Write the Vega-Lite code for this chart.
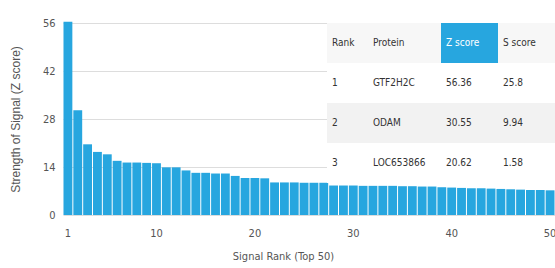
{
  "$schema": "https://vega.github.io/schema/vega-lite/v6.json",
  "width": 492,
  "height": 192,
  "autosize": {"type": "none"},
  "padding": {"left": 63, "top": 23, "right": 0, "bottom": 53},
  "background": "#ffffff",
  "config": {"view": {"stroke": null}},
  "datasets": {
    "ranks": [
      {"rank": 1, "z": 56.36}, {"rank": 2, "z": 30.55}, {"rank": 3, "z": 20.62}, {"rank": 4, "z": 18.4},
      {"rank": 5, "z": 17.7}, {"rank": 6, "z": 15.8}, {"rank": 7, "z": 15.3}, {"rank": 8, "z": 15.3},
      {"rank": 9, "z": 15.2}, {"rank": 10, "z": 15.1}, {"rank": 11, "z": 13.9}, {"rank": 12, "z": 13.9},
      {"rank": 13, "z": 13.0}, {"rank": 14, "z": 12.3}, {"rank": 15, "z": 12.3}, {"rank": 16, "z": 12.1},
      {"rank": 17, "z": 12.1}, {"rank": 18, "z": 11.4}, {"rank": 19, "z": 10.8}, {"rank": 20, "z": 10.8},
      {"rank": 21, "z": 10.7}, {"rank": 22, "z": 9.5}, {"rank": 23, "z": 9.5}, {"rank": 24, "z": 9.5},
      {"rank": 25, "z": 9.4}, {"rank": 26, "z": 9.4}, {"rank": 27, "z": 9.4}, {"rank": 28, "z": 8.6},
      {"rank": 29, "z": 8.6}, {"rank": 30, "z": 8.6}, {"rank": 31, "z": 8.5}, {"rank": 32, "z": 8.5},
      {"rank": 33, "z": 8.5}, {"rank": 34, "z": 8.5}, {"rank": 35, "z": 8.4}, {"rank": 36, "z": 8.4},
      {"rank": 37, "z": 8.3}, {"rank": 38, "z": 8.3}, {"rank": 39, "z": 8.1}, {"rank": 40, "z": 8.0},
      {"rank": 41, "z": 7.9}, {"rank": 42, "z": 7.8}, {"rank": 43, "z": 7.8}, {"rank": 44, "z": 7.7},
      {"rank": 45, "z": 7.6}, {"rank": 46, "z": 7.5}, {"rank": 47, "z": 7.4}, {"rank": 48, "z": 7.3},
      {"rank": 49, "z": 7.3}, {"rank": 50, "z": 7.2}
    ],
    "table": [
      {"row": "H", "col": "Rank", "text": "Rank"},
      {"row": "H", "col": "Protein", "text": "Protein"},
      {"row": "H", "col": "Z score", "text": "Z score"},
      {"row": "H", "col": "S score", "text": "S score"},
      {"row": "1", "col": "Rank", "text": "1"},
      {"row": "1", "col": "Protein", "text": "GTF2H2C"},
      {"row": "1", "col": "Z score", "text": "56.36"},
      {"row": "1", "col": "S score", "text": "25.8"},
      {"row": "2", "col": "Rank", "text": "2"},
      {"row": "2", "col": "Protein", "text": "ODAM"},
      {"row": "2", "col": "Z score", "text": "30.55"},
      {"row": "2", "col": "S score", "text": "9.94"},
      {"row": "3", "col": "Rank", "text": "3"},
      {"row": "3", "col": "Protein", "text": "LOC653866"},
      {"row": "3", "col": "Z score", "text": "20.62"},
      {"row": "3", "col": "S score", "text": "1.58"}
    ]
  },
  "layer": [
    {
      "data": {"name": "ranks"},
      "mark": {"type": "bar", "color": "#27a6df"},
      "encoding": {
        "x": {
          "field": "rank", "type": "ordinal", "sort": "ascending",
          "scale": {"paddingInner": 0.1, "paddingOuter": 0.05},
          "axis": {
            "values": [1, 10, 20, 30, 40, 50], "labelAngle": 0, "ticks": false, "domain": false,
            "labelPadding": 12, "labelColor": "#555", "labelFont": "DejaVu Sans Condensed, Liberation Sans, sans-serif", "labelFontSize": 11,
            "title": "Signal Rank (Top 50)", "titleFont": "DejaVu Sans Condensed, Liberation Sans, sans-serif", "titleFontSize": 11,
            "titleFontWeight": "normal", "titleColor": "#555", "titlePadding": 12, "titleX": 220
          }
        },
        "y": {
          "field": "z", "type": "quantitative",
          "scale": {"domain": [0, 56], "nice": false},
          "axis": {
            "values": [0, 14, 28, 42, 56], "grid": true, "gridColor": "#dddddd", "ticks": false, "domain": false,
            "labelPadding": 8, "labelColor": "#555", "labelFont": "DejaVu Sans Condensed, Liberation Sans, sans-serif", "labelFontSize": 11,
            "title": "Strength of Signal (Z score)", "titleFont": "Liberation Sans, sans-serif", "titleFontSize": 12,
            "titleFontWeight": "normal", "titleColor": "#555", "titlePadding": 20
          }
        }
      }
    },
    {
      "data": {"name": "table"},
      "layer": [
        {
          "mark": {"type": "rect"},
          "encoding": {
            "x": {"field": "col", "type": "nominal", "axis": null,
                  "scale": {"type": "band", "domain": ["Rank", "Protein", "Z score", "S score"], "range": [264, 492], "paddingInner": 0, "paddingOuter": 0}},
            "y": {"field": "row", "type": "nominal", "axis": null,
                  "scale": {"type": "band", "domain": ["H", "1", "2", "3"], "range": [0, 160], "paddingInner": 0, "paddingOuter": 0}},
            "fill": {"field": "row", "type": "nominal", "legend": null,
                     "scale": {"domain": ["H", "1", "2", "3"], "range": ["#f7f7f7", "#ffffff", "#f2f2f2", "#ffffff"]}}
          }
        },
        {
          "transform": [{"filter": "datum.row === 'H' && datum.col === 'Z score'"}],
          "mark": {"type": "rect", "color": "#27a6df"},
          "encoding": {
            "x": {"field": "col", "type": "nominal", "axis": null},
            "y": {"field": "row", "type": "nominal", "axis": null}
          }
        },
        {
          "transform": [{"filter": "datum.col !== 'Protein'"}],
          "mark": {"type": "text", "align": "left", "baseline": "middle", "dx": 5, "font": "DejaVu Sans Condensed, Liberation Sans, sans-serif", "fontSize": 10},
          "encoding": {
            "x": {"field": "col", "type": "nominal", "axis": null, "bandPosition": 0},
            "y": {"field": "row", "type": "nominal", "axis": null},
            "text": {"field": "text"},
            "color": {"condition": {"test": "datum.row === 'H' && datum.col === 'Z score'", "value": "#ffffff"}, "value": "#333333"}
          }
        },
        {
          "transform": [{"filter": "datum.col === 'Protein'"}],
          "mark": {"type": "text", "align": "left", "baseline": "middle", "dx": -11, "font": "DejaVu Sans Condensed, Liberation Sans, sans-serif", "fontSize": 10, "color": "#333333"},
          "encoding": {
            "x": {"field": "col", "type": "nominal", "axis": null, "bandPosition": 0},
            "y": {"field": "row", "type": "nominal", "axis": null},
            "text": {"field": "text"}
          }
        }
      ]
    }
  ],
  "resolve": {"scale": {"x": "independent", "y": "independent", "fill": "independent", "color": "independent"}}
}
